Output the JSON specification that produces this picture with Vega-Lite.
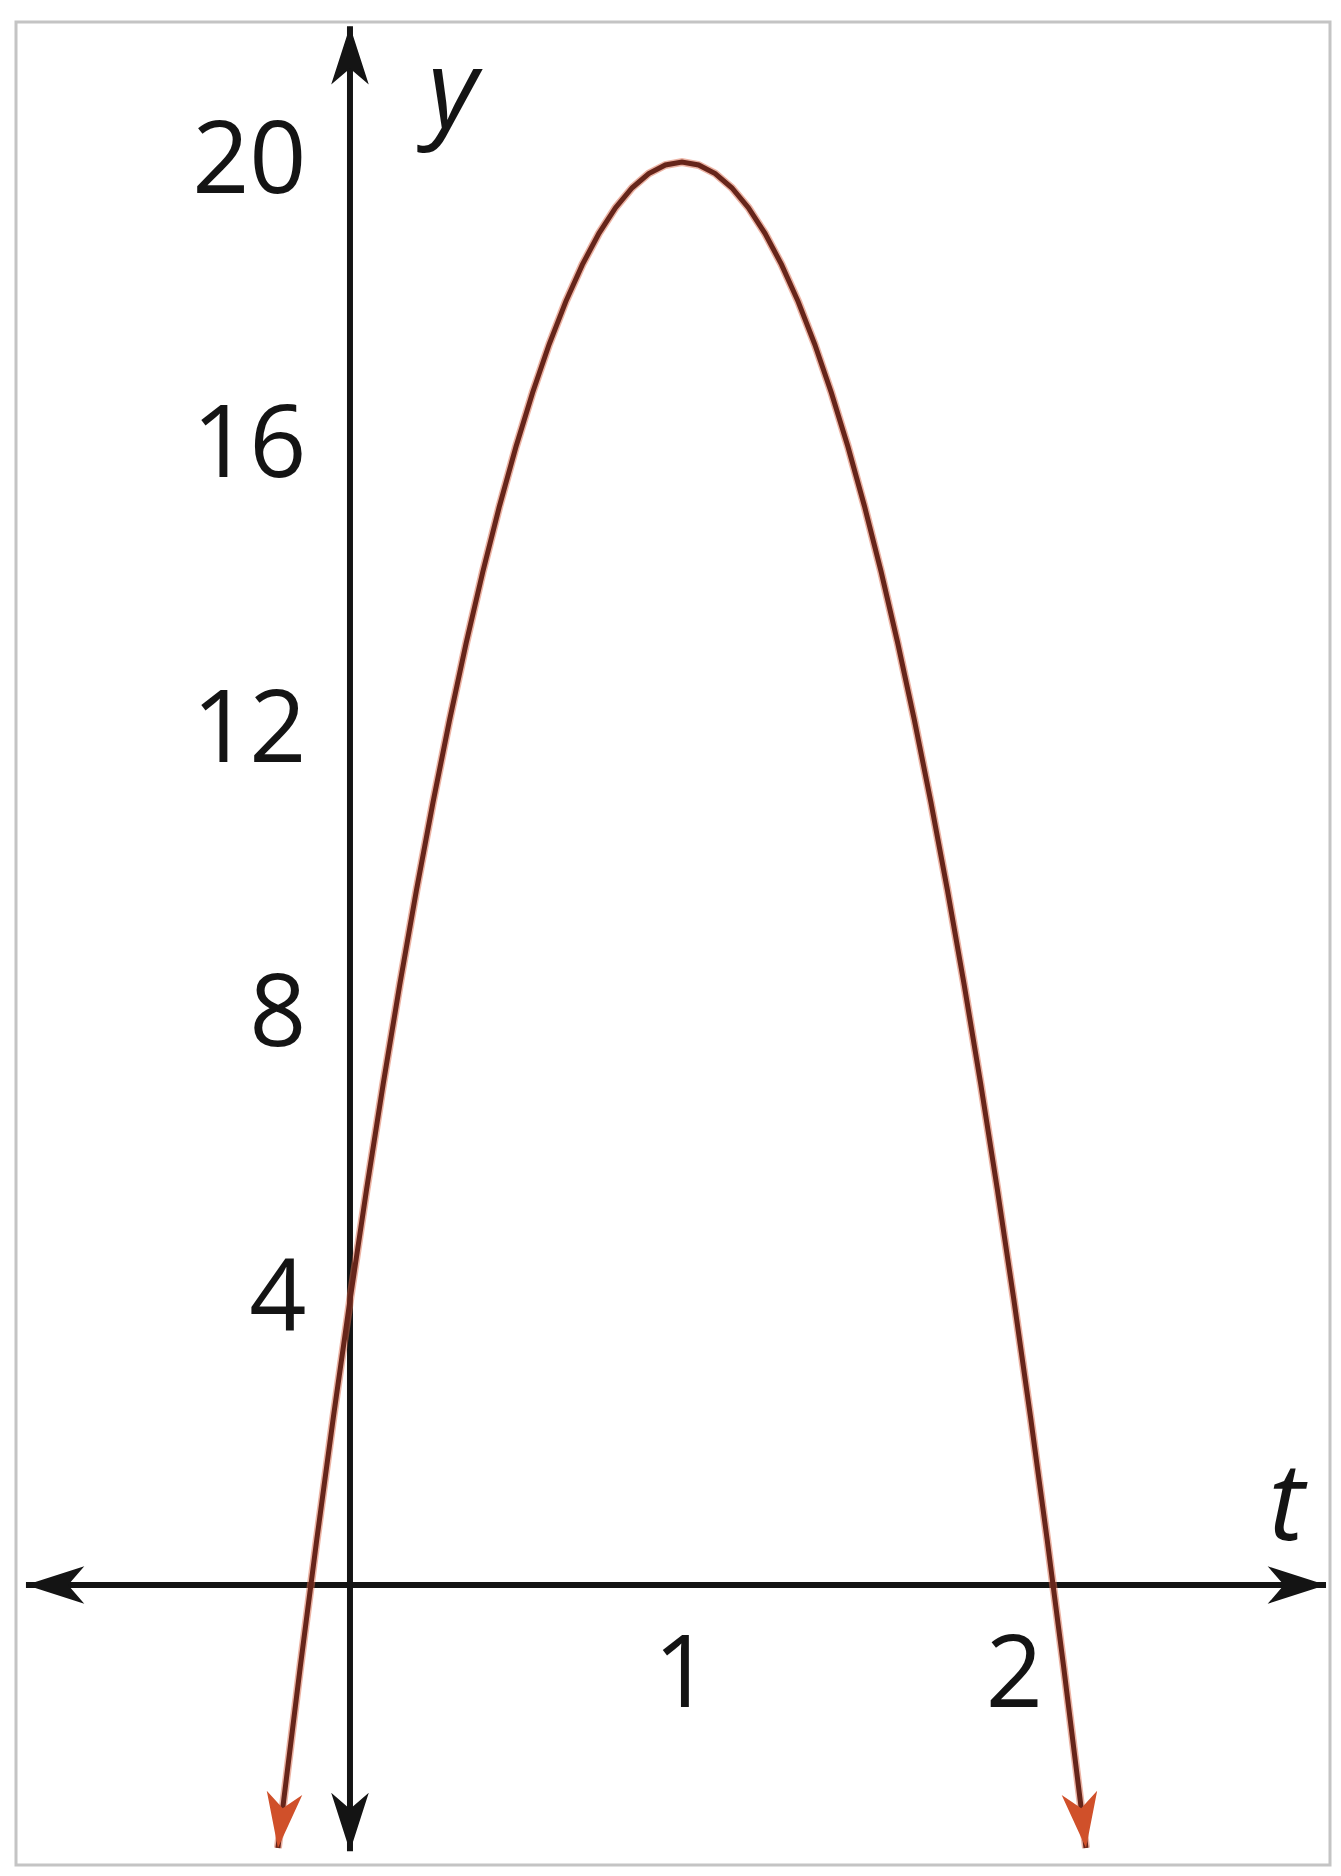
{
  "$schema": "https://vega.github.io/schema/vega-lite/v6.json",
  "width": 1314,
  "height": 1843,
  "autosize": {"type": "none"},
  "padding": {"left": 16, "top": 22, "right": 11, "bottom": 11},
  "background": "white",
  "config": {
    "view": {"stroke": "#c4c4c4", "strokeWidth": 3},
    "font": "Open Sans"
  },
  "datasets": {
    "curve": [
      {"t": -0.217, "y": -3.697},
      {"t": -0.2, "y": -3.04},
      {"t": -0.15, "y": -1.16},
      {"t": -0.1, "y": 0.64},
      {"t": -0.05, "y": 2.36},
      {"t": 0, "y": 4},
      {"t": 0.05, "y": 5.56},
      {"t": 0.1, "y": 7.04},
      {"t": 0.15, "y": 8.44},
      {"t": 0.2, "y": 9.76},
      {"t": 0.25, "y": 11},
      {"t": 0.3, "y": 12.16},
      {"t": 0.35, "y": 13.24},
      {"t": 0.4, "y": 14.24},
      {"t": 0.45, "y": 15.16},
      {"t": 0.5, "y": 16},
      {"t": 0.55, "y": 16.76},
      {"t": 0.6, "y": 17.44},
      {"t": 0.65, "y": 18.04},
      {"t": 0.7, "y": 18.56},
      {"t": 0.75, "y": 19},
      {"t": 0.8, "y": 19.36},
      {"t": 0.85, "y": 19.64},
      {"t": 0.9, "y": 19.84},
      {"t": 0.95, "y": 19.96},
      {"t": 1.0, "y": 20},
      {"t": 1.05, "y": 19.96},
      {"t": 1.1, "y": 19.84},
      {"t": 1.15, "y": 19.64},
      {"t": 1.2, "y": 19.36},
      {"t": 1.25, "y": 19},
      {"t": 1.3, "y": 18.56},
      {"t": 1.35, "y": 18.04},
      {"t": 1.4, "y": 17.44},
      {"t": 1.45, "y": 16.76},
      {"t": 1.5, "y": 16},
      {"t": 1.55, "y": 15.16},
      {"t": 1.6, "y": 14.24},
      {"t": 1.65, "y": 13.24},
      {"t": 1.7, "y": 12.16},
      {"t": 1.75, "y": 11},
      {"t": 1.8, "y": 9.76},
      {"t": 1.85, "y": 8.44},
      {"t": 1.9, "y": 7.04},
      {"t": 1.95, "y": 5.56},
      {"t": 2.0, "y": 4},
      {"t": 2.05, "y": 2.36},
      {"t": 2.1, "y": 0.64},
      {"t": 2.15, "y": -1.16},
      {"t": 2.2, "y": -3.04},
      {"t": 2.217, "y": -3.697}
    ],
    "axisEnds": [
      {"axis": "t", "end": "min", "t": -0.976, "y": 0},
      {"axis": "t", "end": "max", "t": 2.94, "y": 0},
      {"axis": "y", "end": "min", "t": 0, "y": -3.74},
      {"axis": "y", "end": "max", "t": 0, "y": 21.91}
    ]
  },
  "encoding": {
    "x": {
      "field": "t",
      "type": "quantitative",
      "scale": {"domain": [-1.006, 2.952], "nice": false, "zero": false},
      "axis": {
        "orient": "bottom",
        "offset": -280,
        "values": [1, 2],
        "domain": false,
        "ticks": false,
        "grid": false,
        "labelFont": "Open Sans",
        "labelFontSize": 100,
        "labelFontWeight": 500,
        "labelPadding": 42,
        "labelColor": "#141414",
        "labelFlush": false,
        "labelOverlap": false,
        "title": "t",
        "titleFont": "Open Sans",
        "titleFontStyle": "italic",
        "titleFontWeight": 500,
        "titleFontSize": 108,
        "titleColor": "#141414",
        "titleX": 1270,
        "titleY": -78,
        "titleAlign": "center",
        "titleBaseline": "middle",
        "titleAngle": 0
      }
    },
    "y": {
      "field": "y",
      "type": "quantitative",
      "scale": {"domain": [-3.935, 21.97], "nice": false, "zero": false},
      "axis": {
        "orient": "left",
        "offset": -334,
        "values": [4, 8, 12, 16, 20],
        "domain": false,
        "ticks": false,
        "grid": false,
        "labelFont": "Open Sans",
        "labelFontSize": 100,
        "labelFontWeight": 500,
        "labelPadding": 44,
        "labelColor": "#141414",
        "labelFlush": false,
        "labelOverlap": false,
        "title": "y",
        "titleFont": "Open Sans",
        "titleFontStyle": "italic",
        "titleFontWeight": 500,
        "titleFontSize": 108,
        "titleColor": "#141414",
        "titleX": 102,
        "titleY": 104,
        "titleAlign": "center",
        "titleBaseline": "alphabetic",
        "titleAngle": 0
      }
    }
  },
  "layer": [
    {
      "data": {"name": "axisEnds"},
      "mark": {"type": "line", "color": "#141414", "strokeWidth": 6, "strokeCap": "butt"},
      "encoding": {"detail": {"field": "axis", "type": "nominal"}}
    },
    {
      "data": {"name": "axisEnds"},
      "transform": [{"filter": "datum.axis === 't' && datum.end === 'min'"}],
      "mark": {"type": "point", "filled": true, "color": "#141414", "opacity": 1, "strokeWidth": 0, "size": 4200, "angle": 270, "shape": "M0,0 L0.58,1.8 L0,1.3 L-0.58,1.8 Z"},
      "encoding": {}
    },
    {
      "data": {"name": "axisEnds"},
      "transform": [{"filter": "datum.axis === 't' && datum.end === 'max'"}],
      "mark": {"type": "point", "filled": true, "color": "#141414", "opacity": 1, "strokeWidth": 0, "size": 4200, "angle": 90, "shape": "M0,0 L0.58,1.8 L0,1.3 L-0.58,1.8 Z"},
      "encoding": {}
    },
    {
      "data": {"name": "axisEnds"},
      "transform": [{"filter": "datum.axis === 'y' && datum.end === 'max'"}],
      "mark": {"type": "point", "filled": true, "color": "#141414", "opacity": 1, "strokeWidth": 0, "size": 4200, "angle": 0, "shape": "M0,0 L0.58,1.8 L0,1.3 L-0.58,1.8 Z"},
      "encoding": {}
    },
    {
      "data": {"name": "axisEnds"},
      "transform": [{"filter": "datum.axis === 'y' && datum.end === 'min'"}],
      "mark": {"type": "point", "filled": true, "color": "#141414", "opacity": 1, "strokeWidth": 0, "size": 4200, "angle": 180, "shape": "M0,0 L0.58,1.8 L0,1.3 L-0.58,1.8 Z"},
      "encoding": {}
    },
    {
      "data": {"name": "curve"},
      "mark": {"type": "line", "color": "#d9684a", "strokeWidth": 8, "opacity": 0.5},
      "encoding": {}
    },
    {
      "data": {"name": "curve"},
      "mark": {"type": "line", "color": "#66251a", "strokeWidth": 5},
      "encoding": {}
    },
    {
      "data": {"name": "curve"},
      "transform": [{"filter": "datum.t < -0.21"}],
      "mark": {"type": "point", "filled": true, "color": "#d0502a", "opacity": 1, "strokeWidth": 0, "size": 3800, "angle": 186.8, "shape": "M0,0 L0.58,1.8 L0,1.3 L-0.58,1.8 Z"},
      "encoding": {}
    },
    {
      "data": {"name": "curve"},
      "transform": [{"filter": "datum.t > 2.21"}],
      "mark": {"type": "point", "filled": true, "color": "#d0502a", "opacity": 1, "strokeWidth": 0, "size": 3800, "angle": 173.2, "shape": "M0,0 L0.58,1.8 L0,1.3 L-0.58,1.8 Z"},
      "encoding": {}
    }
  ]
}
